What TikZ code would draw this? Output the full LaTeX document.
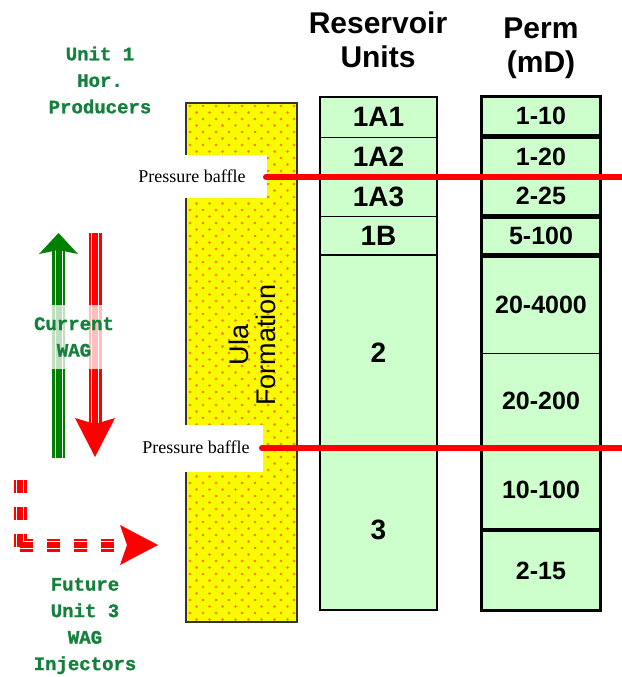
\documentclass[tikz,border=0pt]{standalone}
\usepackage{fontspec}
\setmainfont{Liberation Sans}
\newfontfamily\monofont{Liberation Mono}[BoldFeatures={FakeBold=1.2}]
\newfontfamily\seriffont{Liberation Serif}
\definecolor{cellgreen}{RGB}{204,255,204}
\definecolor{labelgreen}{RGB}{20,128,60}
\definecolor{arrowgreen}{RGB}{0,128,0}
\definecolor{ulayellow}{RGB}{250,250,0}
\definecolor{dotorange}{RGB}{255,120,0}
\begin{document}
\begin{tikzpicture}[x=1pt,y=-1pt]
\tikzset{
  unitcell/.style={draw=black,line width=0.8pt,fill=cellgreen,minimum width=117pt,
    inner sep=0pt,font=\fontsize{28}{30}\selectfont\bfseries},
  permcell/.style={unitcell,minimum width=118pt,font=\fontsize{25}{28}\selectfont\bfseries},
  header/.style={align=center,font=\fontsize{30}{34}\selectfont\bfseries},
  greenlabel/.style={align=center,text=labelgreen,inner sep=1pt,
    font=\monofont\fontsize{19}{26.5}\selectfont\bfseries},
  bafflelabel/.style={font=\seriffont\fontsize{18}{20}\selectfont},
  baffleline/.style={red,line width=6pt,line cap=round},
  frame/.style={draw=black,line width=2pt},
  permframe/.style={draw=black,line width=3pt}
}
\useasboundingbox (0,0) rectangle (621,677);

% Ula formation
\fill[ulayellow] (186,103) rectangle (297,622);
\begin{scope}
  \clip (186,103) rectangle (297,622);
  \foreach \r in {0,...,79}{
    \pgfmathsetmacro\dy{106+6.5*\r}
    \pgfmathsetmacro\dx{mod(\r,2)*6.5}
    \foreach \c in {0,...,8}
      \fill[dotorange] (190+\dx+13*\c,\dy) circle (1.3pt);
  }
\end{scope}
\draw[line width=1.5pt,black!80] (186,103) rectangle (297,622);
\fill[white] (150,155) rectangle (267,198);
\fill[white] (150,425) rectangle (263,472);
\node[rotate=90,align=center,font=\fontsize{27}{27}\selectfont] (ula) at (252,345)
  {Ula\\Formation};

% reservoir units
\node[header] (hunits) at (378,40) {Reservoir\\Units};
\node[unitcell,minimum height=40pt] (u1a1) at (378.5,117) {1A1};
\node[unitcell,minimum height=40pt] (u1a2) at (378.5,157) {1A2};
\node[unitcell,minimum height=39pt] (u1a3) at (378.5,196.5) {1A3};
\node[unitcell,minimum height=39pt] (u1b) at (378.5,235.5) {1B};
\node[unitcell,minimum height=195pt] (u2) at (378.5,352.5) {2};
\node[unitcell,minimum height=160pt] (u3) at (378.5,530) {3};
\draw[frame] (u1a1.north west) rectangle (u1b.south east);
\draw[frame] (u2.north west) rectangle (u2.south east);
\draw[frame] (u3.north west) rectangle (u3.south east);

% permeability
\node[header] (hperm) at (541,48) {Perm\\(mD)};
\node[permcell,minimum height=38.5pt] (p1) at (541,116.25) {1-10};
\node[permcell,minimum height=39.5pt] (p2) at (541,157.25) {1-20};
\node[permcell,minimum height=38.5pt] (p3) at (541,196.25) {2-25};
\node[permcell,minimum height=37pt] (p4) at (541,236) {5-100};
\node[permcell,minimum height=96.5pt] (p5) at (541,304.75) {20-4000};
\node[permcell,minimum height=95pt] (p6) at (541,400.5) {20-200};
\node[permcell,minimum height=79pt] (p7) at (541,489.5) {10-100};
\node[permcell,minimum height=79pt] (p8) at (541,570.5) {2-15};
\draw[permframe] (p1.north west) rectangle (p1.south east);
\draw[permframe] (p2.north west) rectangle (p3.south east);
\draw[permframe] (p4.north west) rectangle (p4.south east);
\draw[permframe] (p5.north west) rectangle (p6.south east);
\draw[permframe] (p7.north west) rectangle (p7.south east);
\draw[permframe] (p8.north west) rectangle (p8.south east);

% pressure baffles
\node[bafflelabel] (pb1) at (192,176) {Pressure baffle};
\node[bafflelabel] (pb2) at (196,447) {Pressure baffle};
\coordinate (b1w) at (266,177);
\coordinate (b1e) at (625,177);
\coordinate (b2w) at (262,448);
\coordinate (b2e) at (625,448);
\draw[baffleline] (b1w) -- (b1e);
\draw[baffleline] (b2w) -- (b2e);

% current WAG arrows
\foreach \w/\c in {13/arrowgreen,8/white,6/arrowgreen}
  \draw[\c,line width=\w pt] (58.5,458) -- (58.5,250);
\fill[arrowgreen] (58.5,233) -- (78,254) -- (58.5,250) -- (39,254) -- cycle;
\foreach \w/\c in {13/red,8/white,6/red}
  \draw[\c,line width=\w pt] (95,233) -- (95,424);
\fill[red] (95,457) -- (75,418) -- (95,424) -- (115,418) -- cycle;
\node[greenlabel,fill=white,fill opacity=0.75,text opacity=1,inner ysep=12pt]
  (current) at (74,337) {Current\\WAG};

% future injectors
\foreach \w/\c in {13/red,8/white,6/red}{
  \draw[\c,line width=\w pt,dash pattern=on 13pt off 14pt] (20,480) -- (20,547);
  \draw[\c,line width=\w pt,dash pattern=on 13pt off 14pt] (20,545) -- (118,545);
}
\fill[red] (120,525) -- (158,545) -- (120,565) -- (127,545) -- cycle;

\node[greenlabel] (producers) at (100,80) {Unit 1\\Hor.~\\Producers};
\node[greenlabel] (future) at (85,626) {Future\\Unit 3\\WAG\\Injectors};
\end{tikzpicture}
\end{document}
